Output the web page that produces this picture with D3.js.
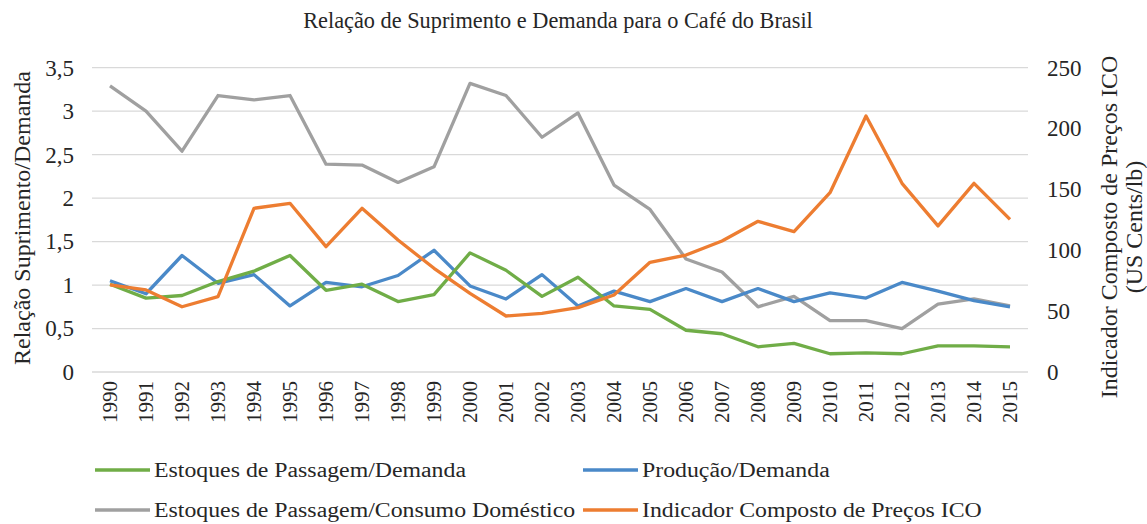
<!DOCTYPE html>
<html>
<head>
<meta charset="utf-8">
<script src="https://cdn.jsdelivr.net/npm/d3@7"></script>
<style>
  body { margin: 0; background: #fff; }
  svg text { font-family: "Liberation Serif", "Times New Roman", serif; fill: #262626; }
</style>
</head>
<body>
<div id="chart"></div>
<script>
const years = d3.range(1990, 2016).map(String);

const estoquesDemanda = [1.01, 0.85, 0.88, 1.04, 1.16, 1.34, 0.94, 1.01, 0.81, 0.89, 1.37, 1.17, 0.87, 1.09, 0.76, 0.72, 0.48, 0.44, 0.29, 0.33, 0.21, 0.22, 0.21, 0.30, 0.30, 0.29];
const producaoDemanda = [1.05, 0.90, 1.34, 1.02, 1.12, 0.76, 1.03, 0.98, 1.11, 1.40, 0.99, 0.84, 1.12, 0.76, 0.93, 0.81, 0.96, 0.81, 0.96, 0.81, 0.91, 0.85, 1.03, 0.93, 0.82, 0.75];
const estoquesConsumo = [3.29, 3.00, 2.54, 3.18, 3.13, 3.18, 2.39, 2.38, 2.18, 2.36, 3.32, 3.18, 2.70, 2.98, 2.15, 1.87, 1.30, 1.15, 0.75, 0.87, 0.59, 0.59, 0.50, 0.78, 0.84, 0.76];
const precoICO = [71.5, 67.4, 53.6, 61.9, 134.5, 138.6, 103, 134.5, 108.4, 85.2, 64.6, 46, 48.2, 52.9, 63.3, 90.1, 96.1, 107.6, 123.8, 115.3, 147.3, 210.3, 155, 120, 155, 125.4];

const leftTicks = [0, 0.5, 1, 1.5, 2, 2.5, 3, 3.5];
const rightTicks = [0, 50, 100, 150, 200, 250];

const W = 1147, H = 524;
const svg = d3.select("#chart").append("svg").attr("width", W).attr("height", H);

const x = d3.scaleBand().domain(years).range([92, 1028]);
const yL = d3.scaleLinear().domain([0, 3.5]).range([372, 67.7]);
const yR = d3.scaleLinear().domain([0, 250]).range([372, 67.7]);

// title
svg.append("text").attr("x", 558).attr("y", 28).attr("text-anchor", "middle")
  .style("font-size", "22.3px").text("Relação de Suprimento e Demanda para o Café do Brasil");

// gridlines
svg.append("g").selectAll("line").data(leftTicks).join("line")
  .attr("x1", 92).attr("x2", 1028)
  .attr("y1", d => yL(d)).attr("y2", d => yL(d))
  .attr("stroke", "#d9d9d9").attr("stroke-width", 1.3);

// left axis
const gL = svg.append("g").attr("transform", "translate(80,0)")
  .call(d3.axisLeft(yL).tickValues(leftTicks).tickSize(0).tickPadding(6)
    .tickFormat(d => String(d).replace(".", ",")));
gL.select(".domain").remove();
gL.selectAll("text").style("font-size", "23px").attr("font-family", null);

// right axis
const gR = svg.append("g").attr("transform", "translate(1041,0)")
  .call(d3.axisRight(yR).tickValues(rightTicks).tickSize(0).tickPadding(6));
gR.select(".domain").remove();
gR.selectAll("text").style("font-size", "23px").attr("font-family", null);

// x axis labels
const gX = svg.append("g").attr("transform", "translate(0,372)")
  .call(d3.axisBottom(x).tickSize(0));
gX.select(".domain").remove();
gX.selectAll("text")
  .attr("font-family", null)
  .style("font-size", "21px")
  .attr("transform", "rotate(-90)")
  .attr("x", -9).attr("y", 0).attr("dy", "0.35em")
  .style("text-anchor", "end");

// axis titles
svg.append("text").attr("transform", "translate(30,218) rotate(-90)")
  .attr("text-anchor", "middle").style("font-size", "24px").text("Relação Suprimento/Demanda");
svg.append("text").attr("transform", "translate(1117,227) rotate(-90)")
  .attr("text-anchor", "middle").style("font-size", "24px").text("Indicador Composto de Preços ICO");
svg.append("text").attr("transform", "translate(1142,227) rotate(-90)")
  .attr("text-anchor", "middle").style("font-size", "24px").text("(US Cents/lb)");

const series = [
  { name: "Estoques de Passagem/Consumo Doméstico", values: estoquesConsumo, color: "#a0a0a0", y: yL },
  { name: "Produção/Demanda", values: producaoDemanda, color: "#4a89c8", y: yL },
  { name: "Estoques de Passagem/Demanda", values: estoquesDemanda, color: "#70ad47", y: yL },
  { name: "Indicador Composto de Preços ICO", values: precoICO, color: "#ed7d31", y: yR }
];

series.forEach(s => {
  const line = d3.line()
    .x((d, i) => x(years[i]) + x.bandwidth() / 2)
    .y(d => s.y(d));
  svg.append("path").datum(s.values)
    .attr("fill", "none").attr("stroke", s.color).attr("stroke-width", 3.3)
    .attr("stroke-linejoin", "round").attr("d", line);
});

// legend (text in the picture is drawn a bit wider than it is tall)
const legendItems = [
  { name: "Estoques de Passagem/Demanda", color: "#70ad47", lx: 95, ly: 470 },
  { name: "Produção/Demanda", color: "#4a89c8", lx: 583, ly: 470 },
  { name: "Estoques de Passagem/Consumo Doméstico", color: "#a0a0a0", lx: 95, ly: 510 },
  { name: "Indicador Composto de Preços ICO", color: "#ed7d31", lx: 583, ly: 510 }
];
const lg = svg.append("g").selectAll("g").data(legendItems).join("g")
  .attr("transform", d => `translate(${d.lx},${d.ly})`);
lg.append("line").attr("x1", 0).attr("x2", 55)
  .attr("stroke", d => d.color).attr("stroke-width", 3.3);
lg.append("text").attr("x", 59).attr("dy", "0.33em")
  .style("font-size", "20px").text(d => d.name)
  .each(function () {
    const w = this.getComputedTextLength();
    d3.select(this).attr("textLength", w * 1.19).attr("lengthAdjust", "spacingAndGlyphs");
  });
</script>
</body>
</html>
